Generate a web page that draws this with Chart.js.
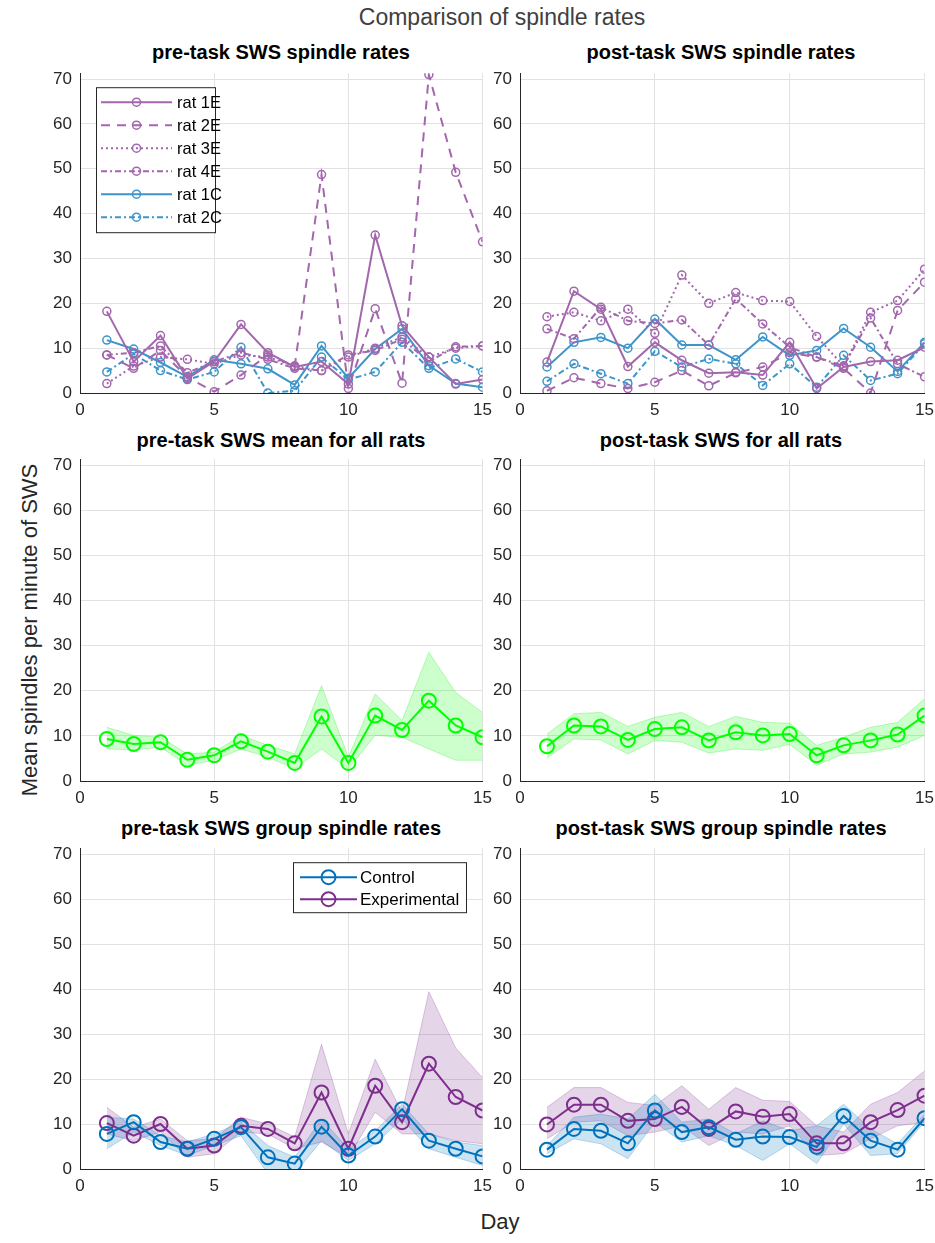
<!DOCTYPE html>
<html><head><meta charset="utf-8">
<script src="https://cdn.jsdelivr.net/npm/chart.js@4/dist/chart.umd.min.js"></script>
<style>
body{margin:0;width:935px;height:1243px;background:#fff;position:relative;overflow:hidden;font-family:'Liberation Sans',Arial,sans-serif;}
canvas{position:absolute;}
.t{position:absolute;transform:translate(-50%,-50%);white-space:nowrap;color:#262626;}
.st{font-weight:bold;font-size:20px;color:#000;}
</style></head><body>
<div class="t" style="left:502px;top:17px;font-size:23px;color:#404040;">Comparison of spindle rates</div>
<div class="t st" style="left:281px;top:52px;">pre-task SWS spindle rates</div>
<div class="t st" style="left:721px;top:52px;">post-task SWS spindle rates</div>
<div class="t st" style="left:281px;top:440px;">pre-task SWS mean for all rats</div>
<div class="t st" style="left:721px;top:440px;">post-task SWS for all rats</div>
<div class="t st" style="left:281px;top:828px;">pre-task SWS group spindle rates</div>
<div class="t st" style="left:721px;top:828px;">post-task SWS group spindle rates</div>
<div class="t" style="left:30px;top:630px;font-size:22px;transform:translate(-50%,-50%) rotate(-90deg);">Mean spindles per minute of SWS</div>
<div class="t" style="left:500px;top:1222px;font-size:22px;">Day</div>
<canvas id="c1"></canvas><canvas id="c2"></canvas><canvas id="c3"></canvas>
<canvas id="c4"></canvas><canvas id="c5"></canvas><canvas id="c6"></canvas>
<script>
// ---------- data ----------
const days = [1,2,3,4,5,6,7,8,9,10,11,12,13,14,15];
const xTicks = [0,5,10,15];
const yTicks = [0,10,20,30,40,50,60,70];
const ratLabels = ['rat 1E','rat 2E','rat 3E','rat 4E','rat 1C','rat 2C'];
const groupLabels = ['Control','Experimental'];

// pre-task individual rats
const preRat1E = [18.2,7.0,12.8,3.2,7.0,15.3,9.0,5.8,7.0,2.0,35.2,15.0,8.0,2.0,3.0];
const preRat2E = [8.5,5.5,9.5,3.5,0.3,4.0,8.5,6.0,48.7,1.0,18.8,2.2,71.0,49.2,33.7];
const preRat3E = [2.1,6.0,8.0,7.5,6.5,8.5,8.0,6.0,5.0,8.0,10.0,12.5,8.0,10.0,10.5];
const preRat4E = [8.5,9.0,10.5,4.5,7.0,9.0,7.5,5.5,5.0,8.5,9.5,12.0,7.0,10.3,10.5];
const preRat1C = [11.8,9.8,6.8,3.6,7.4,6.5,5.4,1.8,10.5,3.3,9.8,14.3,6.1,2.1,1.3];
const preRat2C = [4.7,8.7,5.0,3.0,4.7,10.2,0.0,0.5,8.0,3.0,4.7,11.3,5.5,7.6,4.7];

// post-task individual rats
const postRat1E = [6.9,22.7,18.7,5.9,11.3,7.3,4.4,4.6,4.0,11.3,1.0,5.8,7.0,7.3,10.2];
const postRat2E = [0.5,3.4,2.1,1.0,2.4,5.0,1.6,4.5,5.8,9.0,8.0,5.5,0.0,18.4,24.7];
const postRat3E = [17.0,18.0,16.1,18.7,13.3,26.3,20.0,22.4,20.6,20.4,12.6,6.0,18.0,20.6,27.6];
const postRat4E = [14.3,12.1,19.1,16.1,15.5,16.3,10.7,21.0,15.4,10.2,8.0,6.0,16.7,6.5,3.6];
const postRat1C = [5.8,11.3,12.4,10.0,16.5,10.7,10.7,7.4,12.5,8.4,9.5,14.4,10.2,4.8,11.3];
const postRat2C = [2.6,6.5,4.3,2.1,9.3,5.8,7.6,6.5,1.7,6.5,1.3,8.4,2.8,4.3,11.0];

// means for all rats
const preMean  = [9.3,8.2,8.6,4.7,5.7,8.8,6.5,4.0,14.3,4.0,14.5,11.3,17.8,12.3,9.7];
const preUpper = [11.9,10.1,9.7,6.0,6.4,10.1,7.9,6.0,21.1,5.3,19.3,13.4,28.5,19.6,15.2];
const preLower = [7.1,6.9,7.5,3.5,4.6,7.1,5.3,2.7,7.1,2.7,10.1,9.7,7.1,4.6,4.6];
const postMean  = [7.7,12.3,12.1,9.1,11.5,11.9,9.0,10.8,10.1,10.4,5.7,7.9,9.0,10.3,14.5];
const postUpper = [10.4,14.9,15.2,12.1,14.1,15.2,12.1,14.3,13.0,12.8,7.9,9.7,11.9,13.0,18.2];
const postLower = [5.1,9.3,9.1,6.0,9.0,8.6,6.2,7.1,6.8,8.1,3.5,6.0,6.4,7.5,10.1];

// group means
const preCtrl      = [7.8,10.4,6.0,4.5,6.7,9.3,2.6,1.2,9.4,3.0,7.2,13.3,6.3,4.5,2.8];
const preCtrlUp    = [11.5,11.1,7.4,6.0,7.8,10.4,5.2,2.6,11.1,4.5,8.5,14.4,7.8,6.0,5.2];
const preCtrlLo    = [4.5,8.2,5.2,3.0,5.2,7.4,-1.0,-1.0,6.3,1.9,5.6,11.1,4.5,2.6,0.8];
const preExp       = [10.2,7.4,10.0,4.5,5.2,9.6,8.9,5.7,17.0,4.5,18.5,10.4,23.4,16.0,13.0];
const preExpUp     = [13.7,9.3,11.1,6.3,6.7,11.5,10.0,7.1,27.7,7.8,24.4,12.6,39.4,26.9,20.3];
const preExpLo     = [7.8,6.3,8.2,2.6,3.4,8.2,7.8,4.5,6.0,2.6,12.6,7.8,7.8,6.3,5.6];
const postCtrl     = [4.3,8.9,8.5,5.7,13.0,8.2,9.3,6.5,7.2,7.1,4.9,11.8,6.3,4.3,11.3];
const postCtrlUp   = [5.2,11.5,12.2,11.1,16.6,10.4,11.1,7.8,10.7,8.5,9.6,14.4,8.9,5.6,12.2];
const postCtrlLo   = [3.4,6.7,5.6,2.3,10.4,6.0,7.4,5.2,1.9,5.6,1.2,10.0,3.0,3.4,10.5];
const postExp      = [9.9,14.3,14.3,10.7,11.1,13.8,8.9,12.8,11.6,12.2,5.7,5.7,10.4,13.1,16.3];
const postExpUp    = [13.7,18.1,18.1,14.8,14.1,18.5,13.3,18.1,15.3,15.0,9.6,8.2,14.4,17.0,21.8];
const postExpLo    = [6.7,10.4,10.7,7.4,8.2,9.6,5.2,8.2,7.8,9.6,3.0,3.4,6.7,9.6,10.4];

// ---------- styles ----------
const PURPLE = '#a267ad', BLUE = '#3d95c9';
const CTRL = '#0072bd', EXPC = '#7e2f8e', GREEN = '#00ff00';
const DASH = [9,7], DOT = [2,3], DASHDOT = [6,3,2,3];

const pts = v => v.map((y,i)=>({x:days[i], y:y}));

function ratSets(vals){
  const cols=[PURPLE,PURPLE,PURPLE,PURPLE,BLUE,BLUE];
  const dashes=[[],DASH,DOT,DASHDOT,[],DASHDOT];
  return vals.map((v,i)=>({label:ratLabels[i],data:pts(v),borderColor:cols[i],borderWidth:2,
    borderDash:dashes[i],pointRadius:4,pointBorderWidth:1.5,pointBorderColor:cols[i],
    pointBackgroundColor:'rgba(0,0,0,0)',fill:false,order:0}));
}
function lineSet(label,v,col){
  return {label:label,data:pts(v),borderColor:col,borderWidth:2,pointRadius:7,pointBorderWidth:2,
    pointBorderColor:col,pointBackgroundColor:'rgba(0,0,0,0)',fill:false,order:0};
}
function bandSets(up,lo,face,edge){
  return [
    {label:'_up',data:pts(up),borderColor:edge,borderWidth:1,pointRadius:0,fill:'+1',backgroundColor:face,order:10},
    {label:'_lo',data:pts(lo),borderColor:edge,borderWidth:1,pointRadius:0,fill:false,order:10}
  ];
}

const legendPlugin = {
  id:'matLegend',
  afterDraw(chart, args, opts){
    if(!opts || !opts.items) return;
    const ctx=chart.ctx, a=chart.chartArea;
    const bx=a.left+opts.x, by=a.top+opts.y;
    ctx.save();
    ctx.fillStyle='#fff';
    ctx.fillRect(bx,by,opts.w,opts.h);
    ctx.strokeStyle='#262626'; ctx.lineWidth=1; ctx.setLineDash([]);
    ctx.strokeRect(bx+0.5,by+0.5,opts.w,opts.h);
    ctx.font=opts.font; ctx.textBaseline='middle'; ctx.fillStyle='#000';
    opts.items.forEach((di,k)=>{
      const ds=chart.data.datasets[di];
      const yy=by+opts.row0+k*opts.pitch;
      ctx.strokeStyle=ds.borderColor; ctx.lineWidth=ds.borderWidth;
      ctx.setLineDash(ds.borderDash||[]);
      ctx.beginPath(); ctx.moveTo(bx+opts.l1,yy); ctx.lineTo(bx+opts.l2,yy); ctx.stroke();
      ctx.setLineDash([]);
      ctx.lineWidth=ds.pointBorderWidth;
      ctx.beginPath(); ctx.arc(bx+(opts.l1+opts.l2)/2,yy,ds.pointRadius,0,Math.PI*2); ctx.stroke();
      ctx.fillStyle='#000';
      ctx.fillText(ds.label,bx+opts.tx,yy+1);
    });
    ctx.restore();
  }
};

function makeChart(id,left,top,width,height,datasets,legend){
  const cv=document.getElementById(id);
  cv.style.left=left+'px'; cv.style.top=top+'px';
  cv.width=width; cv.height=height;
  cv.style.width=width+'px'; cv.style.height=height+'px';
  return new Chart(cv,{
    type:'line',
    data:{datasets:datasets},
    plugins:[legendPlugin],
    options:{
      responsive:false, animation:false, devicePixelRatio:1,
      layout:{padding:0},
      plugins:{legend:{display:false},tooltip:{enabled:false},title:{display:false},
        matLegend: legend||{}},
      scales:{
        x:{type:'linear',min:0,max:15,
          afterBuildTicks:s=>{s.ticks=xTicks.map(v=>({value:v}));},
          afterFit:s=>{s.height=30;},
          grid:{color:'#e2e2e2',lineWidth:1,drawTicks:false},
          border:{display:true,color:'#262626',width:1},
          ticks:{color:'#262626',font:{family:"'Liberation Sans', Arial, sans-serif",size:17},padding:7,maxRotation:0}},
        y:{type:'linear',min:0,max:71.3,
          afterBuildTicks:s=>{s.ticks=yTicks.map(v=>({value:v}));},
          afterFit:s=>{s.width=50;},
          grid:{color:'#e2e2e2',lineWidth:1,drawTicks:false},
          border:{display:true,color:'#262626',width:1},
          ticks:{color:'#262626',font:{family:"'Liberation Sans', Arial, sans-serif",size:17},padding:8}}
      }
    }
  });
}

const L=30, R=470, WL=469, WR=471;
makeChart('c1',L,55,WL,368,ratSets([preRat1E,preRat2E,preRat3E,preRat4E,preRat1C,preRat2C]),
  {items:[0,1,2,3,4,5],x:16,y:14,w:119,h:145,row0:15,pitch:23,l1:5,l2:76,tx:81,font:"16.5px 'Liberation Sans', Arial, sans-serif"});
makeChart('c2',R,55,WR,368,ratSets([postRat1E,postRat2E,postRat3E,postRat4E,postRat1C,postRat2C]));
makeChart('c3',L,441,WL,370,[lineSet('mean',preMean,GREEN)].concat(bandSets(preUpper,preLower,'rgba(0,255,0,0.2)','rgba(0,230,0,0.25)')));
makeChart('c4',R,441,WR,370,[lineSet('mean',postMean,GREEN)].concat(bandSets(postUpper,postLower,'rgba(0,255,0,0.2)','rgba(0,230,0,0.25)')));
makeChart('c5',L,830,WL,369,
  [lineSet(groupLabels[0],preCtrl,CTRL),lineSet(groupLabels[1],preExp,EXPC)]
   .concat(bandSets(preCtrlUp,preCtrlLo,'rgba(0,114,189,0.2)','rgba(0,114,189,0.25)'))
   .concat(bandSets(preExpUp,preExpLo,'rgba(126,47,142,0.2)','rgba(126,47,142,0.25)')),
  {items:[0,1],x:213,y:14,w:173,h:50,row0:15,pitch:22,l1:7,l2:64,tx:67,font:"17px 'Liberation Sans', Arial, sans-serif"});
makeChart('c6',R,830,WR,369,
  [lineSet(groupLabels[0],postCtrl,CTRL),lineSet(groupLabels[1],postExp,EXPC)]
   .concat(bandSets(postCtrlUp,postCtrlLo,'rgba(0,114,189,0.2)','rgba(0,114,189,0.25)'))
   .concat(bandSets(postExpUp,postExpLo,'rgba(126,47,142,0.2)','rgba(126,47,142,0.25)')));
</script>
</body></html>
